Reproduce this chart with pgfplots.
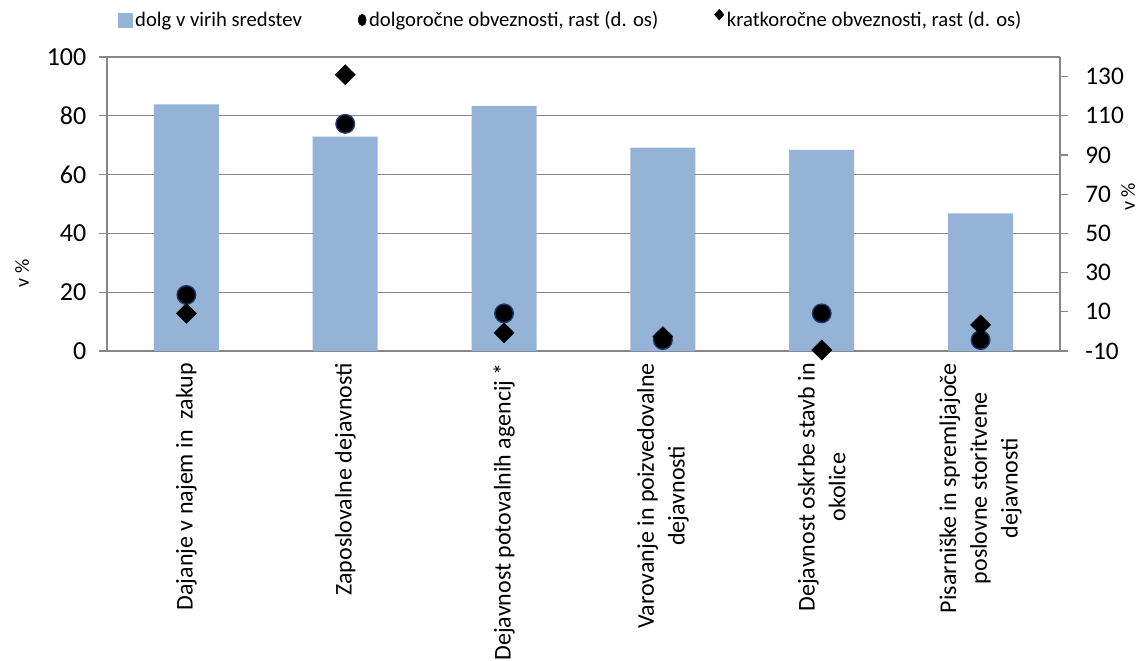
\documentclass[border=0pt]{standalone}
\usepackage{pgfplots}
\pgfplotsset{compat=1.18}
\usepackage{fontspec}
\setmainfont{Carlito}
\definecolor{barblue}{HTML}{95B3D7}
\definecolor{gridgray}{HTML}{868686}
\definecolor{navy}{HTML}{1F3A70}
\begin{document}
\begin{tikzpicture}
\useasboundingbox (-80.25pt,-232.5pt) rectangle (774.75pt,263.25pt);
\begin{axis}[
  scale only axis, width=714.75pt, height=220.5pt,
  xmin=-0.5, xmax=5.5, ymin=0, ymax=100,
  axis x line*=bottom, axis y line*=left,
  axis line style={gridgray, line width=0.9pt},
  ytick={0,20,...,100},
  ymajorgrids, grid style={gridgray, line width=0.9pt},
  tick align=outside, major tick length=6pt,
  ytick style={gridgray, line width=0.9pt},
  xtick={0,...,5},
  xtick style={draw=none},
  xticklabels={{Dajanje v najem in\ \ zakup},{Zaposlovalne dejavnosti},{Dejavnost potovalnih agencij *},{Varovanje in poizvedovalne\\dejavnosti},{Dejavnost oskrbe stavb in\\okolice},{Pisarniške in spremljajoče\\poslovne storitvene\\dejavnosti}},
  xticklabel style={yshift=0.5pt, rotate=90, anchor=east, align=center, font=\fontsize{18}{23}\selectfont},
  extra x ticks={-0.5,0.5,...,5.5},
  extra x tick labels={},
  extra x tick style={grid=none, tick align=center, major tick length=10.5pt, tick style={gridgray, line width=0.9pt, draw=gridgray}},
  yticklabel style={font=\fontsize{19.5}{24}\selectfont, xshift=-6pt},
  /pgf/number format/assume math mode=true,
  ylabel={v \%},
  every axis y label/.style={at={(axis description cs:-0.089,0.265)}, rotate=90, anchor=center, font=\fontsize{15}{18}\selectfont},
  clip=false,
]
\addplot[ybar, bar width=48.75pt, fill=barblue, draw=none] coordinates {
 (0,83.9) (1,72.9) (2,83.4) (3,69.2) (4,68.4) (5,46.8)};
\end{axis}
\begin{axis}[
  scale only axis, width=714.75pt, height=220.5pt,
  xmin=-0.5, xmax=5.5, ymin=-10, ymax=140,
  axis x line=none, axis y line*=right,
  axis line style={gridgray, line width=0.9pt},
  ytick={-10,10,...,130},
  tick align=outside, major tick length=6pt,
  ytick style={gridgray, line width=0.9pt},
  yticklabel style={font=\fontsize{19}{24}\selectfont, xshift=9.5pt},
  /pgf/number format/assume math mode=true,
  ylabel={v \%},
  every axis y label/.style={at={(axis description cs:1.0714,0.524)}, rotate=90, anchor=center, font=\fontsize{15}{18}\selectfont},
  clip=false,
  legend style={at={(axis description cs:0.487,1.126)}, anchor=center, draw=none, fill=none,
    font=\fontsize{15.5}{18}\selectfont, legend columns=3,
    /tikz/every even column/.append style={column sep=40pt}},
  legend cell align=left,
]
\addlegendimage{legend image code/.code={\fill[barblue] (0pt,-5.2pt) rectangle (10.5pt,5.2pt);}}
\addlegendentry{dolg v virih sredstev}
\addplot[only marks, mark=*, mark size=7pt, mark options={fill=black, draw=navy, line width=1pt},
  legend image code/.code={\fill[black] (4pt,0pt) ellipse (3pt and 4.3pt);}] coordinates {
 (0,18.6) (1,105.9) (2,9.2) (3,-4.4) (4,9.2) (5,-4.4)};
\addlegendentry{dolgoročne obveznosti, rast (d. os)}
\addplot[only marks, mark=square*, mark size=5.3pt, mark options={fill=black, draw=black, rotate=45},
  legend image code/.code={\fill[black] (4pt,0pt) -- (7.5pt,4pt) -- (4pt,8pt) -- (0.5pt,4pt) -- cycle;}] coordinates {
 (0,9.2) (1,131) (2,-0.7) (3,-2.7) (4,-9.5) (5,3.3)};
\addlegendentry{kratkoročne obveznosti, rast (d. os)}
\end{axis}
\end{tikzpicture}
\end{document}
